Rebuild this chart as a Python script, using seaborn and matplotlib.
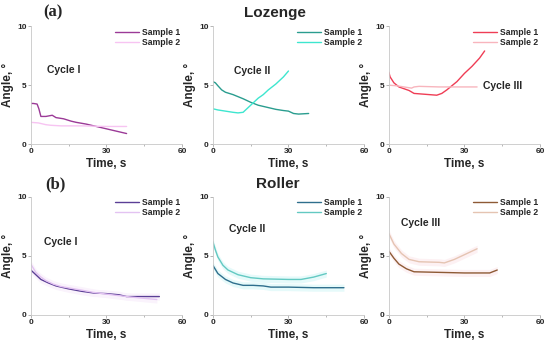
import pandas as pd
import seaborn as sns
import matplotlib.pyplot as plt
from matplotlib.ticker import MultipleLocator

# Lozenge, cycle I
loz1_t1 = [0, 1, 2.5, 3.2, 4, 6, 8.5, 10, 13, 16, 18, 22, 26, 30, 34, 38]
loz1_a1 = [3.45, 3.45, 3.4, 3.0, 2.35, 2.35, 2.45, 2.25, 2.15, 1.95, 1.85, 1.7, 1.5, 1.3, 1.1, 0.9]
loz1_t2 = [0, 3, 6, 8, 12, 20, 30, 38]
loz1_a2 = [1.85, 1.8, 1.65, 1.6, 1.55, 1.55, 1.5, 1.5]

# Lozenge, cycle II
loz2_t1 = [0, 1, 2, 3.5, 5, 8, 12, 15, 18, 22, 25, 28, 30, 32, 34, 38]
loz2_a1 = [5.3, 5.2, 4.95, 4.6, 4.4, 4.2, 3.85, 3.55, 3.3, 3.1, 2.95, 2.85, 2.8, 2.6, 2.55, 2.6]
loz2_t2 = [0, 2, 5, 8, 10, 12, 14, 16, 18, 20, 22, 25, 28, 30]
loz2_a2 = [3.0, 2.9, 2.8, 2.7, 2.65, 2.7, 3.1, 3.5, 3.9, 4.2, 4.6, 5.1, 5.7, 6.2]

# Lozenge, cycle III
loz3_t1 = [0, 0.5, 2, 4, 6, 8, 10, 13, 16, 19, 21, 23, 25, 27, 30, 33, 36, 38]
loz3_a1 = [6.1, 5.7, 5.2, 4.85, 4.7, 4.55, 4.3, 4.25, 4.2, 4.15, 4.3, 4.6, 4.95, 5.3, 6.0, 6.6, 7.3, 7.9]
loz3_t2 = [0, 3, 6, 9, 10, 12, 20, 30, 35]
loz3_a2 = [5.0, 4.95, 4.85, 4.75, 4.85, 4.9, 4.85, 4.85, 4.85]

# Roller, cycle I
rol1_t1 = [0, 2, 4, 7, 10, 15, 20, 25, 30, 35, 38, 45, 51]
rol1_a1 = [3.8, 3.4, 3.0, 2.7, 2.45, 2.2, 2.0, 1.85, 1.8, 1.7, 1.55, 1.55, 1.55]
rol1_t2 = [0, 2, 4, 6, 9, 12, 20, 25, 32, 40, 45, 50]
rol1_a2 = [4.3, 3.6, 3.2, 2.9, 2.6, 2.4, 2.1, 1.9, 1.7, 1.5, 1.4, 1.3]

# Roller, cycle II
rol2_t1 = [0, 2, 5, 8, 12, 16, 20, 23, 30, 40, 52]
rol2_a1 = [4.2, 3.5, 3.0, 2.7, 2.5, 2.5, 2.45, 2.35, 2.35, 2.3, 2.3]
rol2_t2 = [0, 1, 2, 4, 6, 10, 15, 20, 30, 35, 40, 45]
rol2_a2 = [6.2, 5.5, 4.9, 4.2, 3.8, 3.4, 3.15, 3.05, 3.0, 3.0, 3.2, 3.5]

# Roller, cycle III
rol3_t1 = [0, 2, 4, 7, 10, 20, 30, 40, 43]
rol3_a1 = [5.4, 4.8, 4.3, 3.9, 3.65, 3.6, 3.55, 3.55, 3.8]
rol3_t2 = [0, 2, 5, 8, 12, 20, 22, 26, 29, 32, 35]
rol3_a2 = [6.9, 6.0, 5.2, 4.7, 4.5, 4.45, 4.4, 4.7, 5.0, 5.3, 5.6]

panels = [
    ("Cycle I", loz1_t1, loz1_a1, loz1_t2, loz1_a2, "#9b3a97", "#f7c4f2", (13, 6.3), None),
    ("Cycle II", loz2_t1, loz2_a1, loz2_t2, loz2_a2, "#2a9d8f", "#3ee6cf", (15.5, 6.2), None),
    ("Cycle III", loz3_t1, loz3_a1, loz3_t2, loz3_a2, "#ef3d55", "#f8b5bd", (45, 4.9), None),
    ("Cycle I", rol1_t1, rol1_a1, rol1_t2, rol1_a2, "#5b3f96", "#e3c3f2", (12, 6.2), "#faf3fc"),
    ("Cycle II", rol2_t1, rol2_a1, rol2_t2, rol2_a2, "#2f6f8d", "#63c9c2", (13.5, 7.3), "#e6fafa"),
    ("Cycle III", rol3_t1, rol3_a1, rol3_t2, rol3_a2, "#8e5a35", "#e5c4b2", (12.5, 7.8), "#fdf1f3"),
]

sns.set_theme(style="ticks")
plt.rcParams['font.family'] = ['Liberation Sans', 'DejaVu Sans']
plt.rcParams['font.serif'] = ['Liberation Serif', 'DejaVu Serif']

fig = plt.figure(figsize=(5.5, 3.4), dpi=100)
lefts = [0.056, 0.387, 0.707]
bottoms = [0.576, 0.074]

for i, (label, t1, a1, t2, a2, c1, c2, pos, band) in enumerate(panels):
    ax = fig.add_axes([lefts[i % 3], bottoms[i // 3], 0.275, 0.347])
    df = pd.concat([
        pd.DataFrame({"Time": t1, "Angle": a1, "Sample": "Sample 1"}),
        pd.DataFrame({"Time": t2, "Angle": a2, "Sample": "Sample 2"}),
    ])
    if band:
        ax.fill_between(t1, [v - 0.3 for v in a1], [v + 0.3 for v in a1], color=band, lw=0)
        ax.fill_between(t2, [v - 0.3 for v in a2], [v + 0.3 for v in a2], color=band, lw=0)
    sns.lineplot(data=df, x="Time", y="Angle", hue="Sample", palette=[c1, c2],
                 linewidth=1.0, ax=ax)
    ax.set_xlim(0, 60)
    ax.set_ylim(0, 10)
    ax.set_xticks([0, 30, 60])
    ax.set_yticks([0, 5, 10])
    ax.xaxis.set_minor_locator(MultipleLocator(15))
    ax.tick_params(axis="both", which="major", labelsize=6, length=2, width=0.5,
                   pad=1, color="#999999")
    ax.tick_params(axis="both", which="minor", length=1.5, width=0.5, color="#999999")
    for lab in ax.get_xticklabels() + ax.get_yticklabels():
        lab.set_fontweight("bold")
    for s in ["top", "right"]:
        ax.spines[s].set_visible(False)
    for s in ["left", "bottom"]:
        ax.spines[s].set_color("#c8c8c8")
        ax.spines[s].set_linewidth(0.6)
    ax.set_xlabel("Time, s", fontsize=8.5, fontweight="bold", labelpad=2)
    ax.set_ylabel("Angle, °", fontsize=8.5, fontweight="bold", labelpad=2)
    ax.text(pos[0], pos[1], label, fontsize=7.5, fontweight="bold", ha="center", va="center")
    leg = ax.legend(loc="upper right", bbox_to_anchor=(1.02, 1.03), frameon=False,
                    fontsize=6.2, handlelength=2.8, labelspacing=0.1, handletextpad=0.3,
                    borderaxespad=0.2)
    for txt in leg.get_texts():
        txt.set_fontweight("bold")

fig.text(0.5, 0.963, "Lozenge", ha="center", va="center", fontsize=11, fontweight="bold")
fig.text(0.505, 0.458, "Roller", ha="center", va="center", fontsize=11, fontweight="bold")
fig.text(0.097, 0.963, "(a)", ha="center", va="center", fontsize=12, fontweight="bold",
         fontfamily="serif")
fig.text(0.1, 0.458, "(b)", ha="center", va="center", fontsize=12, fontweight="bold",
         fontfamily="serif")

fig.savefig("out.png", dpi=100)
